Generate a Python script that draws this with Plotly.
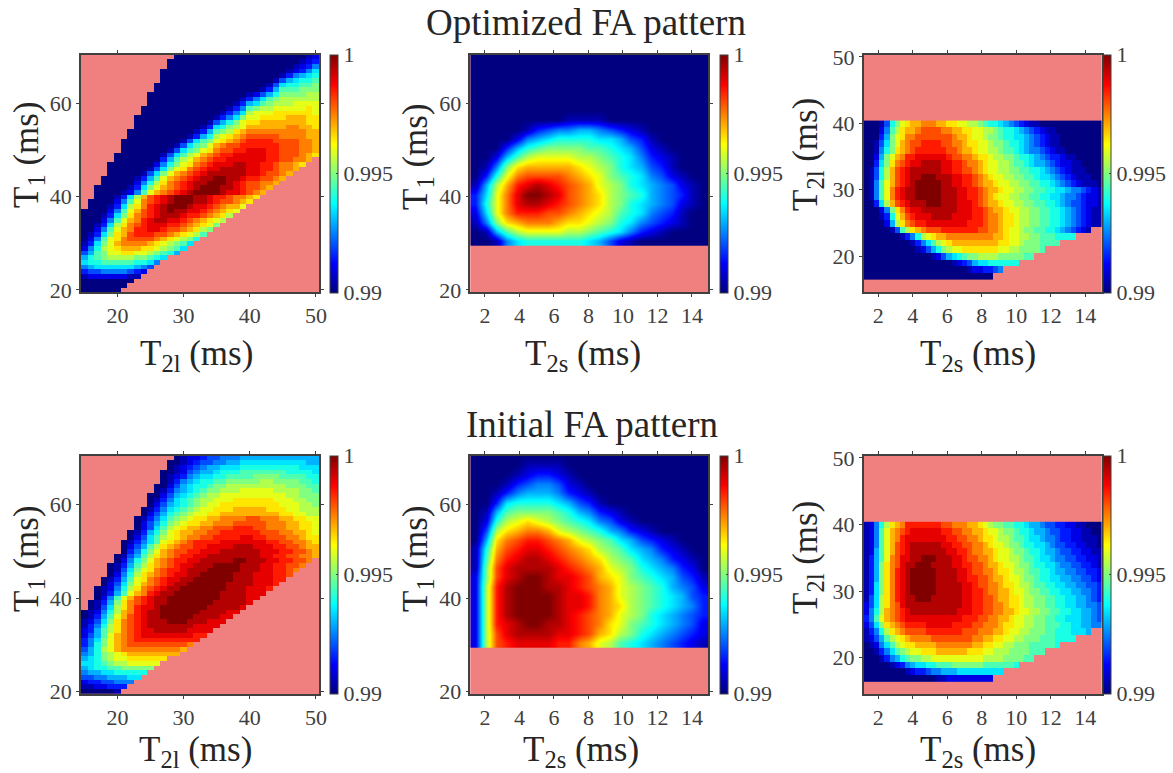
import plotly.graph_objects as go

W, H = 1173, 773
FONT = "Liberation Serif"
DARK = "#404040"
SALMON = "#F08080"

JET = [[0, "rgb(0,0,128)"], [0.125, "rgb(0,0,255)"], [0.375, "rgb(0,255,255)"],
       [0.625, "rgb(255,255,0)"], [0.875, "rgb(255,0,0)"], [1, "rgb(128,0,0)"]]

# Values are stored as one base-21 digit per cell: value = 0.99 + digit * 0.0005
# ---- T1 vs T2l grid (rows from T1=70 down to T1=20) ----
T2L_VALUES = list(range(15, 51))
T1_VALUES = list(range(70, 19, -1))
T1T2L_LEFT = [14, 13, 13, 12, 12, 12, 11, 11, 10, 10, 10, 9, 9, 8, 8, 8, 7, 7, 6, 6, 6, 5, 5, 4, 4, 4,
              3, 3, 2, 2, 2, 1, 1] + [0] * 18
T1T2L_RIGHT = [36] * 22 + [35, 34, 33, 32, 31, 30, 29, 28, 27, 26, 25, 24, 23, 22, 21, 20, 19, 18, 17,
                           16, 15, 13, 12, 11, 10, 9, 8, 7, 6]
OPT_T1T2L_START = [34, 33, 32, 31, 30, 29, 28, 27, 25, 24, 23, 22, 21, 20, 19, 18, 17, 16, 15, 14, 13,
                   12, 12, 11, 10, 9, 8, 8, 7, 6, 5, 5, 4, 4, 3, 3, 2, 2, 1, 1] + [0] * 11
OPT_T1T2L = [
    "12", "123", "1235", "12357", "135678", "1467889", "1478899a", "136999aaa",
    "12468aaaabb", "13579abbbbbb", "13679abbbcccc", "1359abbcccccdc", "1357bcccddddddc",
    "1357accddddeeedd", "1468acddeeeeeeedd", "1378abceeeeeeffeed", "1369abdefffffffffee",
    "1368bcdefgggggffffee", "1479acdefghhhhggggffe", "1479acefgghhhhhhgggffe",
    "1479acdfgghhiiihhgggffe", "1479bcefghhiiiiihhgggfed", "369bcefghhiiiiiihhggffe",
    "258acdfghiiijjiihhgffed", "147acdfghiijjjjiihhgffe", "147acefghijjjjjjiihggfe",
    "1369cefghijjkkjjihhggfe", "258bdfghijjkkkjihggffe", "137acefghijkkkjjihggfe",
    "1259cefghijkkkkjiihgfe", "137beghijkkkjjihhgffed", "259cfghijkkkjjihggfed",
    "137bdfhijkkkjiihgfeec", "259ceghijkjjiihgfedc", "137adfghijjjihhgfedb",
    "259cefhijjiihgfedcb", "137bdfghiiihhgfedca", "259cefhhiihggfedba",
    "137adeghhhggfedcb9", "259cdfggggfedcba8", "137aceffffedcba97", "258bcdeeeddcba97",
    "469accddccba986", "689abbbbaa987", "788999998875", "56777777654", "3445555432",
    "122222211", "", "", "",
]
INI_T1T2L = [
    "0122344555666666666666", "00123445566777777777766", "01234566777888888888777",
    "001245667888999999988887", "01235677889999aaaa999988", "0135678899aaaaabbaaaa998",
    "002467889aabbbbbbbbbaaa99", "01356789aabbbcccccbbbbaa9", "00246789abbccccccccccbbaaa",
    "0135789abbcccddddddcccbbaa", "0246789abccdddddddddcccbba", "0135789abccdddeeeeedddccbbb",
    "024689abccddeeeeeeeeeddccbb", "013579abcddeeffffggfffeeddcc", "02468abcddeefffgggggfffeeddc",
    "02479bcdeeffggghhhggfffeeddc", "01368acdeeffgghhhhhhgggffeedc", "02479bcdeffgghhhhiihhgggffedd",
    "013579cdefghhhhiiiiiiihhggffed", "02469bdefgghhiiiijjjiiihhggfee",
    "0358acefgghhiiijjjjjjiiihhggfe", "01469bdefghhiijjjjjjjjiihhggffe",
    "0258acefghhiijjjjjkkjjjiihhggf", "01369bdefghiijjjkkkkjjjiihhggf",
    "0147acdfghhijjjkkkkkjjjiihhgf", "0258bdefghiijjkkkkkjjjiiihhg", "01369cdfghiijjkkkkkkjjjiiihh",
    "0247acefghijjkkkkkkjjjjiiih", "01258bdfghijjkkkkkkkjjjiiih", "01369cefhijjkkkkkkkjjjjiii",
    "0259ceghijjkkkkkkkkjjjjii", "0136adfghijjkkkkkkkjjjjji", "0147bdfhiijkkkkkkkjjjjji",
    "01258befhijjkkkkkkjjjjii", "01369ceghijjkkkkkjjjjii", "1247adfghijjjkkkjjjiii",
    "1358bdfghijjjjjjjiiii", "2369bdfghiijjjjjiiii", "2469cefghiiiiiiiihh", "357acefghhhhhhhhhh",
    "358acefgggggggggf", "468bcefffffffffe", "568abcdeeeeeeee", "678abccdddddd", "7789abbccccc",
    "678899aaaaa", "5667788888", "445566677", "23344555", "1122333", "000001",
]

# ---- T2l vs T2s grid (rows from T2l=39.9 down to T2l=16.9) ----
T2S_FINE = [1.3 + 0.3 * i for i in range(46)]
T2L_ROWS = [39.9 - i for i in range(24)]
T2LT2S_RIGHT = [46] * 16 + [44, 41, 38, 35, 33, 30, 27, 25]
OPT_T2LT2S_START = [3, 3, 3, 2, 2, 2, 2, 1, 1, 1, 1, 1, 2, 3, 3, 4, 5, 7, 9, 10, 13, 17, 20, 0]
OPT_T2LT2S = [
    "148acdeefffeeddccbba98876543211", "259bdeefggggffeeddccbba98876543211",
    "36acdffgggggggfeedccbaa988776543211", "147acefgghhhhggffeddccbaa98876543211",
    "158adefghhhhhhggfeedccbba998765543211", "26acefhhiiiiiihggffeddcbbaa988765433211",
    "37adfghiijjjjiihhgffedccbba9987665432211", "148beghijjjjjjiihhggfedccbbaa9988765432111",
    "148beghijjkkkjjjiihhgfedccbbaa9987765432111", "159ceghijkkkkkjjiihhgfeedccbbaa9988765432111",
    "159cfhijjkkkkkjjjiihhgfeedccbbaa9988776554321", "159cfhijjkkkkkjjjiihhgfedccbbaa99887765543221",
    "37beghijjjkkkjjjiiihgfeedccbbaa9988765443221", "25adfhiijjjjjjjiiihhgfeedccbbaa998876543211",
    "138ceghiiijjjjiiiihhgffeddcbbaa998876543211", "26bdfghhiiiiiiiihhhgffeddcbbaa998876543211",
    "149bdefggghhhhhhhggffedccbaa99887654321", "1358bcdeefffffffffeedccbbaa9998888",
    "13579bcdeeeeeeeeeddccbaaa9999", "12468abccdddddddccbbaaaa9", "1246789aabbbbaaaaa99",
    "1234677888888", "1223345", "",
]
INI_T2LT2S = [
    "1258bdefhhhhhhhggfffeedcbaa9988766544332211000", "1259cefghiiiiiihhggffeedccbaa98876654433221100",
    "1259cefhiiiiiiiihhggffeddcbba99877655433221110", "1259ceghijjjjjjiihhggffedccbaa9887765443322110",
    "1269ceghijjjjjjjiihhgffeedccbaa988766544332211", "1369cfgiijjkkkjjjiihggffedccbba998776554433221",
    "136adfgijjkkkjjjjiihhggfeedccbaa98877655443321", "136adfhijkkkkkjjjjiihggffeddcbba99887665544332",
    "136adfhijkkkkkjjjjiihhggfeedccbaa9887766554432", "137adfhijkkkkkjjjjjiihggffeddcbba9988776655443",
    "137adfhijkkkkkjjjjjiihhgffeedccbaa998877665543", "147bdfhijjkkkjjjjjjiihhggfeeddcbbaa99887766543",
    "247bdfgijjjjjjjjjjjiihhggffeddcbbaa99887766554", "258befghijjjjjjjjjiiihhggffeedccbbaa9988776654",
    "359cefghiiiiiiiiiiihhhggffeedccbbaa99887776654", "247adefghhhhiiiiihhhhggfffeddccbbaa99988776655",
    "1358bdefgggghhhhhhhgggfffeedccbbaaa998887776", "12469bcdeffffggggggggffeeddccbbaaa9998888",
    "012579bcddeeeefffffffeeddccbbaaa999998", "0013579abccdddeeeeeedddccbbbaaaa999",
    "000135689aabbccccccccccbbbbaaaa99", "00000123567788999aaaaaa9999998",
    "000000001233455666777777777", "0000000000000011222222222",
]

# ---- T1 vs T2s values, coarse reading (rows from T1=30.5 upward, every 2 ms) ----
T2S_COARSE = [1.45 + 0.6 * i for i in range(23)]
T1_COARSE = [30.5 + 2 * j for j in range(21)]
OPT_T1T2S = [
    "00157888888764210000000", "0169bccccbba98753210000", "15adefffeddcba875432100",
    "27cfhhhggfedcb987543100", "38cfijjihgfedba87654210", "37cfikkjigfedba98654310",
    "16behijihgfecba87654210", "038cfggggfedca987542100", "015adeeeeedcba876431000",
    "00269bccccbba9875321000", "0003689aaaa998764210000", "00002567888877643100000",
    "00000134556654321000000", "00000000011110000000000", "00000000000000000000000",
    "00000000000000000000000", "00000000000000000000000", "00000000000000000000000",
    "00000000000000000000000", "00000000000000000000000", "00000000000000000000000",
]
INI_T1T2S = [
    "2bghiiiihhfecb987654321", "2bgijjjjiihgedba8765432", "2bhijkkjjihgfdca9876542",
    "2bhjkkkkjihgfecba876543", "2bhjkkkkjiihfedba987653", "2bhjkkkkjiihfecba987643",
    "2bhjkkkjjihgfecba986542", "2agijkkjiihgedca9876431", "1agijjjjihgfecba8765320",
    "19fhijjihgfedba97653210", "18eghiihgfedba976532100", "06dfghhgfecba9764321000",
    "04bdeffecba986532100000", "028bcdcba98754210000000", "0169aaaa986532100000000",
    "00378888764310000000000", "00135666532100000000000", "00013455421000000000000",
    "00001233210000000000000", "00000111100000000000000", "00000000000000000000000",
]

TITLES = ["Optimized FA pattern", "Initial FA pattern"]
CB_TICKS = [0.99, 0.995, 1]
CB_LABELS = ["0.99", "0.995", "1"]


def val(ch):
    return 0.99 + int(ch, 21) * 0.0005


def masked(rows, ncols, left, right, start):
    out = []
    for r, s in enumerate(rows):
        row = [None] * ncols
        for c in range(left[r], right[r]):
            row[c] = 0.99
        for i, ch in enumerate(s):
            c = start[r] + i
            if c < right[r]:
                row[c] = val(ch)
        if s and int(s[-1], 21) >= 2:
            for c in range(start[r] + len(s), right[r]):
                row[c] = val(s[-1])
        out.append(row)
    return out


def plain(rows):
    return [[val(ch) for ch in s] for s in rows]


def fx(p):
    return p / W


def fy(p):
    return 1 - p / H


TOPS = [(54.7, 292.3), (455.7, 694.0)]
COLS = [(81.0, 319.3, 330.0), (470.3, 708.3, 720.0), (863.7, 1101.7, 1103.0)]
RANGES = [([14.5, 50.5], [19.5, 70.5]), ([1.15, 14.95], [19.5, 70.5]), ([1.15, 14.95], [14.53, 50.33])]
XTICKS = [[20, 30, 40, 50], [2, 4, 6, 8, 10, 12, 14], [2, 4, 6, 8, 10, 12, 14]]
YTICKS = [[20, 40, 60], [20, 40, 60], [20, 30, 40, 50]]
XNAMES = ["T<sub>2l</sub> (ms)", "T<sub>2s</sub> (ms)", "T<sub>2s</sub> (ms)"]
YNAMES = ["T<sub>1</sub> (ms)", "T<sub>1</sub> (ms)", "T<sub>2l</sub> (ms)"]
XT_X = [[196, 583, 978], [195, 581, 978]]
XT_Y = [355, 751]
YT_X = [28, 417, 807]
YT_Y = [[155, 157, 155], [559, 559, 558]]

GRIDS = [
    [
        dict(x=T2L_VALUES, y=T1_VALUES,
             z=masked(OPT_T1T2L, 36, T1T2L_LEFT, T1T2L_RIGHT, OPT_T1T2L_START)),
        dict(x=T2S_COARSE, y=T1_COARSE, z=plain(OPT_T1T2S), zsmooth="best"),
        dict(x=T2S_FINE, y=T2L_ROWS,
             z=masked(OPT_T2LT2S, 46, [0] * 24, T2LT2S_RIGHT, OPT_T2LT2S_START)),
    ],
    [
        dict(x=T2L_VALUES, y=T1_VALUES,
             z=masked(INI_T1T2L, 36, T1T2L_LEFT, T1T2L_RIGHT, T1T2L_LEFT)),
        dict(x=T2S_COARSE, y=T1_COARSE, z=plain(INI_T1T2S), zsmooth="best"),
        dict(x=T2S_FINE, y=T2L_ROWS,
             z=masked(INI_T2LT2S, 46, [0] * 24, T2LT2S_RIGHT, [0] * 24)),
    ],
]

fig = go.Figure()
layout = dict(
    width=W, height=H, margin=dict(l=0, r=0, t=0, b=0, autoexpand=False),
    paper_bgcolor="white", plot_bgcolor=SALMON, showlegend=False,
    font=dict(family=FONT, color=DARK, size=22),
)
annotations = []
axis_font = dict(family=FONT, size=22, color=DARK)
title_font = dict(family=FONT, size=35, color="#262626")

for row in range(2):
    top, bottom = TOPS[row]
    for col in range(3):
        left, right, cb_left = COLS[col]
        n = row * 3 + col + 1
        suffix = "" if n == 1 else str(n)
        spec = GRIDS[row][col]
        fig.add_trace(go.Heatmap(
            **spec, xaxis="x" + suffix, yaxis="y" + suffix,
            zmin=0.99, zmax=1, colorscale=JET, hoverinfo="skip",
            colorbar=dict(
                x=fx(cb_left), xanchor="left", xpad=0, y=fy(top), yanchor="top", ypad=0,
                len=(bottom - top) / H, lenmode="fraction", thickness=7.7, thicknessmode="pixels",
                outlinecolor=DARK, outlinewidth=1, tickvals=CB_TICKS, ticktext=CB_LABELS,
                ticks="inside", ticklen=2, tickcolor=DARK, tickfont=axis_font,
            ),
        ))
        common = dict(showgrid=False, zeroline=False, showline=True, linecolor=DARK, linewidth=1.5,
                      mirror="ticks", ticks="outside", ticklen=3, tickcolor=DARK, tickwidth=1,
                      tickfont=axis_font, automargin=False)
        xr, yr = RANGES[col]
        layout["xaxis" + suffix] = dict(
            domain=[fx(left), fx(right)], range=xr, tickvals=XTICKS[col],
            anchor="y" + suffix, **common)
        layout["yaxis" + suffix] = dict(
            domain=[fy(bottom), fy(top)], range=yr, tickvals=YTICKS[col],
            anchor="x" + suffix, **common)
        annotations.append(dict(text=XNAMES[col], x=fx(XT_X[row][col]), y=fy(XT_Y[row]),
                                xref="paper", yref="paper", xanchor="center", yanchor="middle",
                                showarrow=False, font=title_font))
        annotations.append(dict(text=YNAMES[col], x=fx(YT_X[col]), y=fy(YT_Y[row][col]),
                                xref="paper", yref="paper", xanchor="center", yanchor="middle",
                                textangle=-90, showarrow=False, font=title_font))

suptitle_font = dict(family=FONT, size=37, color="#262626")
annotations.append(dict(text=TITLES[0], x=fx(586), y=fy(22), xref="paper", yref="paper",
                        xanchor="center", yanchor="middle", showarrow=False, font=suptitle_font))
annotations.append(dict(text=TITLES[1], x=fx(592), y=fy(424), xref="paper", yref="paper",
                        xanchor="center", yanchor="middle", showarrow=False, font=suptitle_font))
layout["annotations"] = annotations
fig.update_layout(**layout)
fig.write_html("out.html", post_script="document.body.style.margin='0';",
               config={"displayModeBar": False})
